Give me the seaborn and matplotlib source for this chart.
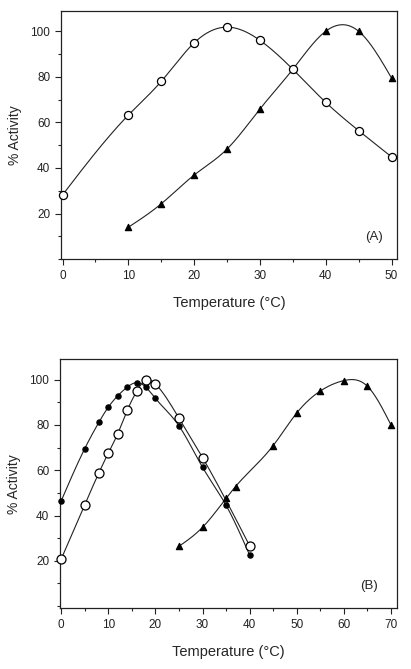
import numpy as np
import pandas as pd
import matplotlib
matplotlib.use("Agg")
import matplotlib.pyplot as plt
import seaborn as sns

# Panel A
a_temp_open = [0, 10, 15, 20, 25, 30, 35, 40, 45, 50]
a_act_open = [28.2, 63.2, 78.0, 94.9, 101.8, 96.0, 83.3, 68.8, 56.4, 44.9]
a_temp_tri = [10, 15, 20, 25, 30, 35, 40, 45, 50]
a_act_tri = [14.0, 24.3, 36.9, 48.3, 65.9, 83.3, 100.0, 100.0, 79.5]

# Panel B
b_temp_fill = [0, 5, 8, 10, 12, 14, 16, 18, 20, 25, 30, 35, 40]
b_act_fill = [46.5, 69.6, 81.2, 87.9, 92.9, 96.7, 98.7, 96.6, 91.7, 79.6, 61.3, 44.5, 22.5]
b_temp_open = [0, 5, 8, 10, 12, 14, 16, 18, 20, 25, 30, 40]
b_act_open = [20.8, 44.8, 58.9, 67.6, 76.2, 86.4, 94.8, 99.9, 98.1, 83.0, 65.6, 26.6]
b_temp_tri = [25, 30, 35, 37, 45, 50, 55, 60, 65, 70]
b_act_tri = [26.4, 34.8, 47.6, 52.8, 70.9, 85.3, 95.0, 99.6, 97.1, 80.0]


def spline(x, y, n=300):
    # natural cubic spline through the points (for drawing the connecting curve)
    x = np.asarray(x, float)
    y = np.asarray(y, float)
    k = len(x)
    h = np.diff(x)
    A = np.zeros((k, k))
    r = np.zeros(k)
    A[0, 0] = A[-1, -1] = 1
    for i in range(1, k - 1):
        A[i, i - 1] = h[i - 1]
        A[i, i] = 2 * (h[i - 1] + h[i])
        A[i, i + 1] = h[i]
        r[i] = 6 * ((y[i + 1] - y[i]) / h[i] - (y[i] - y[i - 1]) / h[i - 1])
    M = np.linalg.solve(A, r)
    xs = np.linspace(x[0], x[-1], n)
    idx = np.clip(np.searchsorted(x, xs) - 1, 0, k - 2)
    x0, x1 = x[idx], x[idx + 1]
    hh = x1 - x0
    t0 = x1 - xs
    t1 = xs - x0
    ys = (M[idx] * t0 ** 3 + M[idx + 1] * t1 ** 3) / (6 * hh) \
        + (y[idx] / hh - M[idx] * hh / 6) * t0 + (y[idx + 1] / hh - M[idx + 1] * hh / 6) * t1
    return xs, ys


sns.set_style("ticks")
plt.rcParams['font.family'] = ['Liberation Sans', 'DejaVu Sans']

fig = plt.figure(figsize=(4.11, 6.69), dpi=100)
ax_a = fig.add_axes([0.149, 0.6126, 0.818, 0.3714])
ax_b = fig.add_axes([0.1467, 0.0907, 0.8183, 0.3722])

line_kw = dict(color="#222222", linewidth=0.8, sort=False, estimator=None, legend=False)


def draw_series(ax, x, y, marker, size, face):
    xs, ys = spline(x, y)
    sns.lineplot(x=xs, y=ys, ax=ax, zorder=2, **line_kw)
    sns.scatterplot(x=x, y=y, ax=ax, marker=marker, s=size, facecolor=face,
                    edgecolor="black", linewidth=0.9, zorder=3, legend=False,
                    clip_on=False)


draw_series(ax_a, a_temp_tri, a_act_tri, "^", 20, "black")
draw_series(ax_a, a_temp_open, a_act_open, "o", 34, "white")

draw_series(ax_b, b_temp_tri, b_act_tri, "^", 20, "black")
draw_series(ax_b, b_temp_fill, b_act_fill, "o", 14, "black")
draw_series(ax_b, b_temp_open, b_act_open, "o", 42, "white")

for ax, xmax, xstep, label, lx in [(ax_a, 50.9, 10, "(A)", 0.93), (ax_b, 71.2, 10, "(B)", 0.918)]:
    ax.set_xlim(-0.2, xmax)
    ax.set_xticks(np.arange(0, xmax, xstep))
    ax.set_xticks(np.arange(5, xmax, xstep), minor=True)
    ax.set_yticks([20, 40, 60, 80, 100])
    ax.set_yticks([0, 10, 30, 50, 70, 90], minor=True)
    ax.tick_params(axis="both", which="major", direction="out", length=4, width=0.8,
                   labelsize=8.5, pad=4, colors="#222222")
    ax.tick_params(axis="both", which="minor", direction="out", length=2.5, width=0.8)
    for sp in ax.spines.values():
        sp.set_linewidth(0.9)
        sp.set_color("#222222")
        sp.set_visible(True)
    ax.set_xlabel("Temperature (°C)", fontsize=10.5, labelpad=10)
    ax.set_ylabel("% Activity", fontsize=10, labelpad=6)
    ax.text(lx, 0.09, label, transform=ax.transAxes, fontsize=9.5, ha="center", va="center")

ax_a.set_ylim(0, 109)
ax_b.set_ylim(-1, 109)

fig.savefig("out.png", dpi=100)
